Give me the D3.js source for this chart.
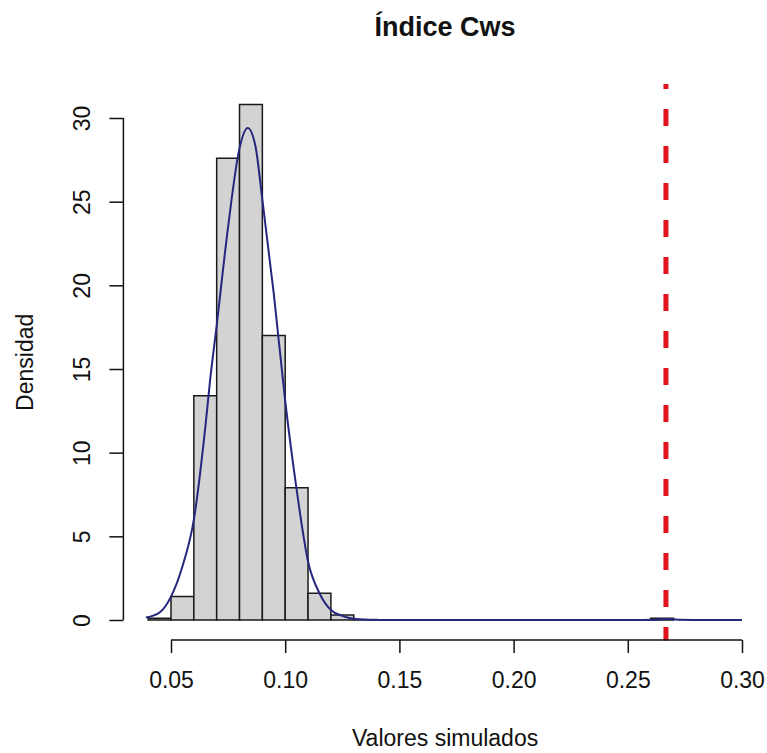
<!DOCTYPE html>
<html>
<head>
<meta charset="utf-8">
<script src="https://cdn.jsdelivr.net/npm/d3@7"></script>
<style>
  html, body { margin: 0; padding: 0; background: #fff; }
  svg { display: block; }
  text { font-family: "Liberation Sans", Arial, Helvetica, sans-serif; fill: #111; }
</style>
</head>
<body>
<svg id="chart" width="767" height="753"></svg>
<script>
// ---- data ----
const chartTitle = "Índice Cws";
const xLabel = "Valores simulados";
const yLabel = "Densidad";

// histogram bins (left edge), bin width 0.01, density values
const binLefts = [0.04, 0.05, 0.06, 0.07, 0.08, 0.09, 0.10, 0.11, 0.12, 0.13, 0.14, 0.15, 0.16, 0.17, 0.18, 0.19, 0.20, 0.21, 0.22, 0.23, 0.24, 0.25, 0.26];
const binWidth = 0.01;
const densities = [0.1, 1.4, 13.4, 27.6, 30.8, 17.0, 7.9, 1.6, 0.3, 0, 0, 0, 0, 0, 0, 0, 0, 0, 0, 0, 0, 0, 0.1];

// kernel density estimate
const curveX = [0.039, 0.045, 0.050, 0.055, 0.060, 0.065, 0.0671, 0.070, 0.075, 0.080, 0.0836, 0.087, 0.090, 0.095, 0.100, 0.105, 0.110, 0.115, 0.120, 0.125, 0.130, 0.140, 0.150, 0.250, 0.262, 0.267, 0.272, 0.285, 0.300];
const curveY = [0.15, 0.45, 1.4, 3.2, 6.0, 11.5, 14.3, 17.6, 23.5, 28.2, 29.4, 28.3, 25.1, 19.5, 13.1, 7.8, 3.5, 1.6, 0.6, 0.25, 0.08, 0.01, 0, 0, 0.02, 0.06, 0.02, 0, 0];

// observed value (vertical reference line)
const observedValue = 0.2667;

// axis ticks
const xTicks = [0.05, 0.10, 0.15, 0.20, 0.25, 0.30];
const xTickLabels = ["0.05", "0.10", "0.15", "0.20", "0.25", "0.30"];
const yTicks = [0, 5, 10, 15, 20, 25, 30];
const yTickLabels = ["0", "5", "10", "15", "20", "25", "30"];

// ---- layout ----
const svg = d3.select("#chart");
const x = d3.scaleLinear().domain([0.05, 0.30]).range([171, 742]);
const y = d3.scaleLinear().domain([0, 30]).range([620, 118]);
const plotLeft = x(0.0296), plotRight = x(0.3104);
const plotTop = y(32.03), plotBottom = y(-1.232);
const fontSize = 23;

// bars
const bars = binLefts.map((b, i) => ({x0: b, x1: b + binWidth, d: densities[i]}));
svg.append("g").selectAll("path").data(bars).join("path")
  .attr("d", d => `M${x(d.x0)},${y(0)}V${y(d.d)}H${x(d.x1)}V${y(0)}Z`)
  .attr("fill", "#d3d3d3")
  .attr("stroke", "#1a1a1a")
  .attr("stroke-width", 1.5);

// density curve
const line = d3.line().x((d, i) => x(curveX[i])).y(d => y(d)).curve(d3.curveMonotoneX);
svg.append("path")
  .attr("d", line(curveY))
  .attr("fill", "none")
  .attr("stroke", "#26267f")
  .attr("stroke-width", 2);

// observed value line
svg.append("line")
  .attr("x1", x(observedValue)).attr("x2", x(observedValue))
  .attr("y1", plotBottom).attr("y2", plotTop)
  .attr("stroke", "#e0141c")
  .attr("stroke-width", 5)
  .attr("stroke-dasharray", "17,20")
  .attr("stroke-dashoffset", 3.5);

// x axis
const xAxis = d3.axisBottom(x).tickValues(xTicks).tickFormat((d, i) => xTickLabels[i]).tickSize(13).tickPadding(19);
const gx = svg.append("g").attr("transform", `translate(0,${plotBottom - 0.6})`).call(xAxis);
gx.select(".domain").attr("d", `M${x(0.05)},0H${x(0.30)}`).attr("stroke", "#111").attr("stroke-width", 1.5);
gx.selectAll(".tick line").attr("stroke", "#111").attr("stroke-width", 1.5);
gx.selectAll(".tick text").attr("font-size", fontSize).attr("font-family", "Liberation Sans, Arial, sans-serif").attr("fill", "#111");

// y axis
const yAxis = d3.axisLeft(y).tickValues(yTicks).tickFormat((d, i) => yTickLabels[i]).tickSize(14);
const gy = svg.append("g").attr("transform", `translate(${plotLeft - 1},0)`).call(yAxis);
gy.select(".domain").attr("d", `M0,${y(0)}V${y(30)}`).attr("stroke", "#111").attr("stroke-width", 1.5);
gy.selectAll(".tick line").attr("stroke", "#111").attr("stroke-width", 1.5);
gy.selectAll(".tick text")
  .attr("font-size", fontSize).attr("font-family", "Liberation Sans, Arial, sans-serif").attr("fill", "#111")
  .attr("x", null).attr("dy", null)
  .attr("text-anchor", "middle")
  .attr("transform", `translate(${90 - (plotLeft - 1)},0) rotate(-90)`);

// title and axis labels
const cx = (plotLeft + plotRight) / 2;
svg.append("text").attr("x", cx).attr("y", 36).attr("text-anchor", "middle")
  .attr("font-size", 27).attr("font-weight", "bold").text(chartTitle);
svg.append("text").attr("x", cx).attr("y", 746).attr("text-anchor", "middle")
  .attr("font-size", fontSize).text(xLabel);
svg.append("text").attr("transform", `translate(33,${(plotTop + plotBottom) / 2}) rotate(-90)`)
  .attr("text-anchor", "middle").attr("font-size", fontSize).text(yLabel);
</script>
</body>
</html>
